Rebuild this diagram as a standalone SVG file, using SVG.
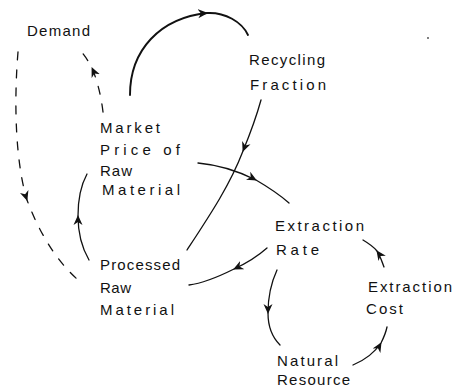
<svg xmlns="http://www.w3.org/2000/svg" width="453" height="389" viewBox="0 0 453 389">
  <style>
    .lbl { font-family: "Liberation Sans", "DejaVu Sans", sans-serif; font-size: 15px; fill: #111; }
    .link { fill: none; stroke: #111; stroke-width: 1.3; stroke-linecap: round; marker-mid: url(#head); }
    .bold { stroke-width: 1.9; }
    .dash { stroke-dasharray: 8 10; }
  </style>
  <defs>
    <marker id="head" viewBox="0 0 12 10" refX="9" refY="5" markerWidth="12" markerHeight="10" markerUnits="userSpaceOnUse" orient="auto">
      <path d="M0,0.5 L10,5 L0,9.5 L3,5 Z" fill="#111"/>
    </marker>
  </defs>

  <rect width="453" height="389" fill="#fff"/>

  <!-- causal links -->
  <g id="connectors">
    <!-- Demand to Processed Raw Material (dashed, arrow on the way down) -->
    <path class="link dash" d="M18,52 C14,100 15,160 27,200 C40,235 58,262 77,279"/>
    <!-- Market Price to Demand (dashed) -->
    <path class="link dash" d="M103,112 C101,95 97,80 92,68 C88,60 84,55 80,50"/>
    <!-- Market Price to Recycling Fraction -->
    <path class="link bold" d="M130,95 C130,50 160,18 207,13 C225,12 242,22 248,35"/>
    <!-- Recycling Fraction to Processed Raw Material -->
    <path class="link" d="M261,100 C256,118 250,134 243,151 C230,185 210,215 187,250"/>
    <!-- Market Price to Extraction Rate -->
    <path class="link" d="M198,163 C220,165 240,172 256,180 C268,187 280,195 289,203"/>
    <!-- Extraction Rate to Processed Raw Material -->
    <path class="link" d="M267,248 C258,256 247,263 234,269 C220,276 205,283 189,285"/>
    <!-- Processed Raw Material to Market Price -->
    <path class="link" d="M89,260 C82,248 78,233 78,216 C78,198 81,185 87,174"/>
    <!-- Extraction Rate to Natural Resource -->
    <path class="link" d="M277,270 C271,283 268,297 268,313 C268,327 272,337 280,345"/>
    <!-- Natural Resource to Extraction Cost -->
    <path class="link" d="M353,365 C365,360 375,352 381,343 C384,337 386,332 387,327"/>
    <!-- Extraction Cost to Extraction Rate -->
    <path class="link" d="M384,267 C382,261 380,256 377,251 C373,246 368,243 363,240"/>
  </g>

  <g id="demand">
    <text class="lbl" x="27" y="36" textLength="63" lengthAdjust="spacing">Demand</text>
  </g>
  <g id="recycling-fraction">
    <text class="lbl" x="249" y="65" textLength="76" lengthAdjust="spacing">Recycling</text>
    <text class="lbl" x="250" y="90" textLength="76" lengthAdjust="spacing">Fraction</text>
  </g>
  <g id="market-price">
    <text class="lbl" x="100" y="133" textLength="60" lengthAdjust="spacing">Market</text>
    <text class="lbl" x="100" y="155" textLength="80" lengthAdjust="spacing">Price of</text>
    <text class="lbl" x="100" y="176" textLength="32" lengthAdjust="spacing">Raw</text>
    <text class="lbl" x="102" y="195" textLength="78" lengthAdjust="spacing">Material</text>
  </g>
  <g id="processed-raw-material">
    <text class="lbl" x="100" y="270" textLength="80" lengthAdjust="spacing">Processed</text>
    <text class="lbl" x="100" y="293" textLength="31" lengthAdjust="spacing">Raw</text>
    <text class="lbl" x="100" y="315" textLength="74" lengthAdjust="spacing">Material</text>
  </g>
  <g id="extraction-rate">
    <text class="lbl" x="275" y="231" textLength="89" lengthAdjust="spacing">Extraction</text>
    <text class="lbl" x="276" y="255" textLength="43" lengthAdjust="spacing">Rate</text>
  </g>
  <g id="extraction-cost">
    <text class="lbl" x="368" y="292" textLength="84" lengthAdjust="spacing">Extraction</text>
    <text class="lbl" x="366" y="314" textLength="37" lengthAdjust="spacing">Cost</text>
  </g>
  <g id="natural-resource">
    <text class="lbl" x="277" y="366" textLength="61" lengthAdjust="spacing">Natural</text>
    <text class="lbl" x="277" y="385" textLength="73" lengthAdjust="spacing">Resource</text>
  </g>

  <!-- small ink speck -->
  <circle cx="428" cy="38" r="0.9" fill="#444"/>
</svg>
